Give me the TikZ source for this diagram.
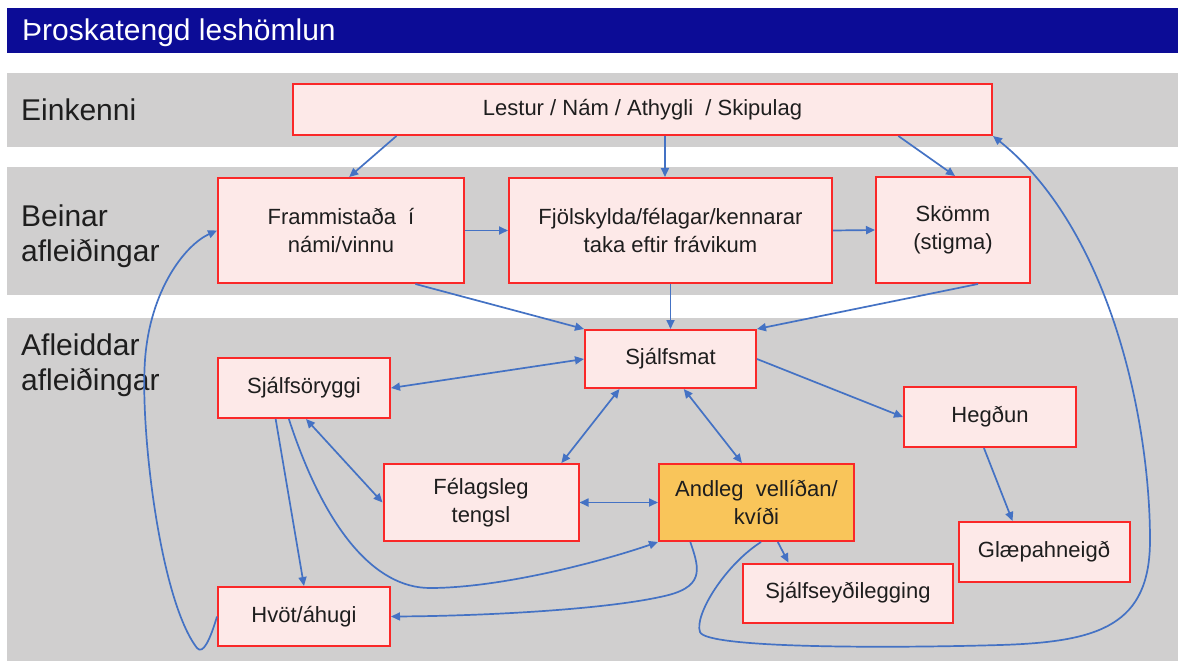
\documentclass[tikz,border=0pt]{standalone}
\usepackage{fontspec}
\setmainfont{Liberation Sans}
\usetikzlibrary{arrows.meta,calc}
\definecolor{titleblue}{RGB}{12,12,150}
\definecolor{band}{RGB}{208,207,207}
\definecolor{boxfill}{RGB}{253,233,232}
\definecolor{boxline}{RGB}{250,40,40}
\definecolor{arrowblue}{RGB}{68,114,196}
\definecolor{orangefill}{RGB}{249,197,90}
\definecolor{txt}{RGB}{30,30,30}
\begin{document}
\begin{tikzpicture}[x=1pt,y=-1pt,
  box/.style={draw=boxline,fill=boxfill,line width=2pt,inner sep=0pt,align=center,text=txt,font=\fontsize{22}{28}\selectfont},
  lab/.style={anchor=west,align=left,text=txt,font=\fontsize{30}{35}\selectfont,inner sep=0pt},
  conn/.style={draw=arrowblue,line width=1.7pt,-{Triangle[length=9pt,width=8pt]}},
  dbl/.style={draw=arrowblue,line width=1.7pt,{Triangle[length=9pt,width=8pt]}-{Triangle[length=9pt,width=8pt]}}]

\useasboundingbox (0,0) rectangle (1178,661);
\fill[white] (0,0) rectangle (1178,661);
\fill[titleblue] (7,8) rectangle (1178,53);
\node[anchor=base west,text=white,font=\fontsize{30}{35}\selectfont,inner sep=0pt] (title) at (22,41) {Þroskatengd leshömlun};

\fill[band] (7,73) rectangle (1178,147);
\fill[band] (7,167) rectangle (1178,295);
\fill[band] (7,318) rectangle (1178,661);

\node[lab] (l1) at (21,110) {Einkenni};
\node[lab] (l2) at (21,236) {Beinar\\afleiðingar};
\node[lab] (l3) at (21,365) {Afleiddar\\afleiðingar};

\node[box,minimum width=699pt,minimum height=51pt] (lestur) at (642.5,109.5) {Lestur / Nám / Athygli\ \ / Skipulag};
\node[box,minimum width=246pt,minimum height=105pt] (fram) at (341,230.5) {Frammistaða\ \ í\\námi/vinnu};
\node[box,minimum width=323pt,minimum height=105pt] (fjol) at (670.5,230.5) {Fjölskylda/félagar/kennarar\\taka eftir frávikum};
\node[box,minimum width=154pt,minimum height=106pt] (skomm) at (953,230) {Skömm\\(stigma)};
\node[box,minimum width=171pt,minimum height=58pt] (smat) at (670.5,359) {Sjálfsmat};
\node[box,minimum width=172pt,minimum height=60pt] (sory) at (304,388) {Sjálfsöryggi};
\node[box,minimum width=195pt,minimum height=77pt] (fel) at (481,502.5) {Félagsleg\\tengsl};
\node[box,minimum width=172pt,minimum height=59pt] (hvot) at (304,616.5) {Hvöt/áhugi};
\node[box,minimum width=172pt,minimum height=60pt] (heg) at (990,417) {Hegðun};
\node[box,fill=orangefill,minimum width=195pt,minimum height=77pt] (andleg) at (756.5,502.5) {Andleg\ \ vellíðan/\\kvíði};
\node[box,minimum width=171pt,minimum height=60pt] (glaep) at (1044,552) {Glæpahneigð};
\node[box,minimum width=210pt,minimum height=59pt] (seyd) at (848,593) {Sjálfseyðilegging};

\draw[conn] ($(lestur.south west)!0.149!(lestur.south east)$) -- ($(fram.north west)!0.533!(fram.north east)$);
\draw[conn] ($(lestur.south west)!0.532!(lestur.south east)$) -- ($(fjol.north west)!0.483!(fjol.north east)$);
\draw[conn] ($(lestur.south west)!0.865!(lestur.south east)$) -- ($(skomm.north west)!0.513!(skomm.north east)$);
\draw[conn] (fram.east) -- (fjol.west);
\draw[conn] (fjol.east) -- (skomm.west);
\draw[conn] ($(fram.south west)!0.8!(fram.south east)$) -- (smat.north west);
\draw[conn] (fjol.south) -- (smat.north);
\draw[conn] ($(skomm.south west)!0.66!(skomm.south east)$) -- (smat.north east);
\draw[dbl] (sory.east) -- (smat.west);
\draw[dbl] ([xshift=2pt]sory.south) -- (fel.west);
\draw[dbl] ($(smat.south west)!0.205!(smat.south east)$) -- ($(fel.north west)!0.908!(fel.north east)$);
\draw[dbl] ($(smat.south west)!0.577!(smat.south east)$) -- ($(andleg.north west)!0.426!(andleg.north east)$);
\draw[dbl] (fel.east) -- (andleg.west);
\draw[conn] (smat.east) -- (heg.west);
\draw[conn] ($(heg.south west)!0.465!(heg.south east)$) -- ($(glaep.north west)!0.318!(glaep.north east)$);
\draw[conn] ($(andleg.south west)!0.608!(andleg.south east)$) -- ($(seyd.north west)!0.219!(seyd.north east)$);
\draw[conn] ($(sory.south west)!0.337!(sory.south east)$) -- (hvot.north);
\draw[conn] ($(sory.south west)!0.413!(sory.south east)$) .. controls (325,530) and (375,588) .. (430,588) .. controls (500,588) and (600,562) .. (andleg.south west);
\draw[conn] ($(andleg.south west)!0.164!(andleg.south east)$) .. controls (700,570) and (705,588) .. (660,597) .. controls (600,610) and (480,616) .. (hvot.east);
\draw[conn] (hvot.west) .. controls (210,640) and (203,655) .. (197,648) .. controls (160,600) and (140,430) .. (145,360) .. controls (150,290) and (185,245) .. (fram.west);
\draw[conn] ($(andleg.south west)!0.523!(andleg.south east)$) .. controls (725,565) and (694,615) .. (700,632) .. controls (706,649) and (900,648) .. (1000,645) .. controls (1100,642) and (1150,625) .. (1150,540) .. controls (1150,420) and (1110,230) .. (lestur.south east);
\end{tikzpicture}
\end{document}
